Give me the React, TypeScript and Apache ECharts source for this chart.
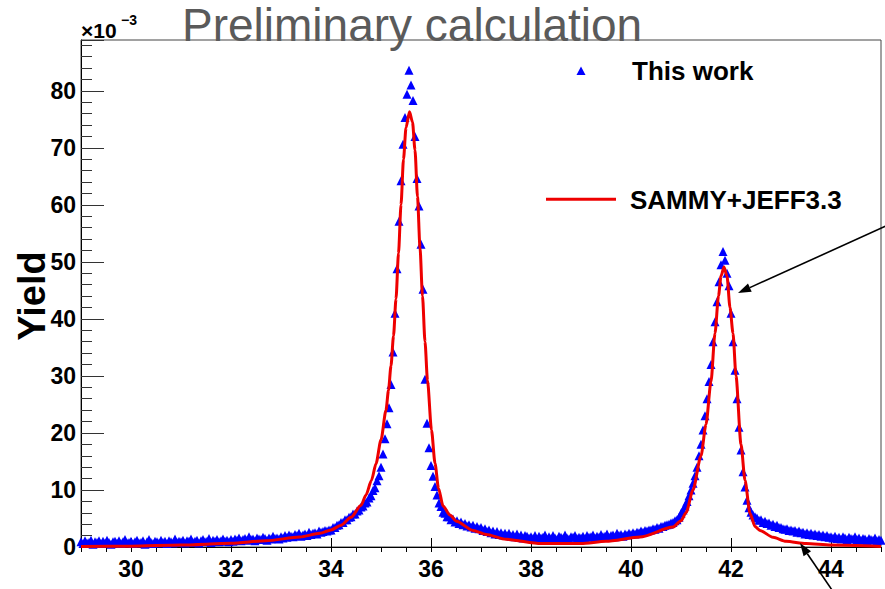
import React, { useEffect, useRef } from "react";
import * as echarts from "echarts";

// Measured yield (x10^-3) on a regular energy grid starting at 29.00 with step 0.04
const blueStart = 29.0;
const blueStep = 0.04;
const blueYield: number[] = [
  0.9,0.6,1.1,0.7,0.8,1.2,0.5,0.9,0.8,1.1,0.6,1.0,0.7,1.2,0.8,0.5,0.9,1.0,0.7,1.1,0.6,0.9,1.3,0.7,0.8,
  1.0,0.6,0.9,1.2,0.7,0.8,1.1,0.5,0.9,1.3,0.8,0.6,1.0,0.9,0.7,1.2,0.8,1.0,0.6,1.1,0.9,0.7,1.4,0.8,1.0,
  0.9,1.2,0.7,1.1,1.0,1.4,0.8,1.0,1.2,0.7,1.1,1.3,0.9,1.0,1.5,0.8,1.2,1.0,1.3,0.9,1.1,1.4,1.0,1.2,0.9,
  1.3,1.0,1.4,1.2,1.6,1.1,1.3,1.5,1.2,1.8,1.3,1.4,1.1,1.6,1.4,1.3,1.7,1.5,1.2,1.6,1.4,1.9,1.5,1.6,1.4,
  1.8,1.6,2.0,1.7,2.1,1.9,1.8,2.2,2.0,2.4,1.9,2.1,2.3,2.0,2.6,2.2,2.4,2.5,2.3,2.8,2.6,2.7,2.9,2.8,3.0,
  3.0,3.4,3.4,3.8,3.9,4.3,4.3,4.8,4.8,5.2,5.3,5.8,5.8,6.3,6.5,7.0,7.2,7.7,7.9,8.6,9.0,9.9,10.4,11.6,12.5,
  14.0,16.3,19.0,21.6,24.4,28.5,34.2,41.0,48.8,57.1,64.2,70.6,75.3,79.4,83.6,81.0,78.3,72.0,64.6,59.8,53.1,45.2,29.4,21.7,17.4,
  14.3,12.4,10.6,9.1,7.7,7.1,6.1,5.9,5.3,5.3,4.8,4.9,4.4,4.6,4.1,4.4,3.9,4.1,3.7,3.9,3.5,3.8,3.3,3.6,3.2,
  3.4,2.9,3.2,2.7,3.0,2.5,2.8,2.3,2.7,2.2,2.5,2.1,2.4,2.0,2.4,1.9,2.2,1.8,2.3,1.7,2.1,1.6,2.0,1.9,1.6,
  1.8,1.5,2.0,1.4,1.9,1.6,1.7,2.1,1.4,1.8,1.5,2.0,1.6,1.3,1.9,1.7,1.5,2.1,1.6,1.4,1.8,1.7,2.0,1.5,1.7,
  1.6,1.9,1.5,2.0,1.7,1.8,2.1,1.6,1.9,1.7,2.2,1.8,1.9,2.3,1.7,2.0,2.1,1.8,2.4,2.0,2.2,1.9,2.3,2.1,2.4,
  2.2,2.5,2.3,2.6,2.5,2.8,2.6,2.9,2.8,3.0,3.0,3.2,3.1,3.4,3.3,3.6,3.6,3.8,3.9,4.0,4.2,4.3,4.6,4.8,5.2,
  5.9,6.5,7.2,8.0,9.0,10.0,11.2,12.5,14.0,16.0,18.0,20.5,23.0,26.0,29.0,32.0,36.0,39.5,43.0,46.5,49.5,51.8,50.3,48.0,45.8,
  41.0,36.0,31.0,26.0,21.0,17.0,13.2,10.5,8.2,6.9,6.1,5.6,5.3,5.1,4.7,4.8,4.3,4.5,4.1,4.2,3.8,4.0,3.6,3.8,3.4,
  3.4,3.2,3.1,3.2,2.9,3.0,2.8,2.9,2.6,2.8,2.5,2.6,2.3,2.5,2.2,2.4,2.1,2.3,2.0,2.2,1.9,2.1,1.8,2.0,1.7,
  1.8,1.6,1.9,1.5,1.7,1.4,1.8,1.6,1.3,1.7,1.5,1.4,1.8,1.3,1.6,1.2,1.5,1.4,1.1,1.5,1.3,1.2,1.6,1.1,1.3,
  1.2,
];

// SAMMY + JEFF3.3 calculation
const calcEnergy: number[] = [
  29.0, 30.0, 31.0, 32.0, 32.7, 33.38, 33.78, 34.0, 34.2, 34.4, 34.6, 34.7, 34.81, 34.9, 35.0,
  35.1, 35.15, 35.2, 35.25, 35.3, 35.35, 35.4, 35.45, 35.5, 35.57, 35.63, 35.68, 35.73, 35.78,
  35.83, 35.88, 35.93, 36.01, 36.08, 36.15, 36.24, 36.38, 36.51, 36.84, 37.1, 37.5, 38.2, 39.0,
  39.5, 40.18, 40.84, 41.0, 41.1, 41.24, 41.4, 41.5, 41.6, 41.68, 41.75, 41.8, 41.86, 41.92,
  41.98, 42.04, 42.1, 42.2, 42.28, 42.38, 42.48, 42.58, 42.84, 43.1, 43.5, 44.0, 45.0,
];
const calcYield: number[] = [
  0.1, 0.15, 0.35, 0.65, 1.1, 1.75, 2.4, 3.0, 3.8, 5.2, 7.3, 9.1, 11.7, 14.6, 18.8,
  24.0, 27.5, 31.8, 37.0, 43.5, 51.5, 60.0, 68.0, 73.5, 76.3, 74.5, 69.6, 61.4, 52.5,
  44.0, 36.0, 29.2, 20.5, 14.7, 10.3, 7.2, 5.6, 4.5, 2.9, 2.2, 1.35, 0.6, 0.6,
  1.0, 1.75, 3.5, 4.6, 6.0, 10.0, 16.0, 21.5, 29.0, 37.5, 44.0, 47.5, 49.1, 47.5,
  42.0, 37.5, 30.0, 18.0, 11.7, 5.9, 3.6, 2.9, 1.7, 1.0, 0.6, 0.35, 0.1,
];

const xLabelValues = [30, 32, 34, 36, 38, 40, 42, 44];
const seriesNames = ["This work", "SAMMY+JEFF3.3"];

const FONT = "Liberation Sans, Arial, Helvetica, sans-serif";

export default function App() {
  const ref = useRef<HTMLDivElement>(null);
  useEffect(() => {
    if (!ref.current) return;
    const chart = echarts.init(ref.current, undefined, { renderer: "svg" });
    const blueData = blueYield.map((y, i) => [
      Math.round((blueStart + blueStep * i) * 100) / 100,
      y,
    ]);
    const redData = calcEnergy.map((x, i) => [x, calcYield[i]]);

    const arrow = (x1: number, y1: number, tx: number, ty: number) => {
      const dx = tx - x1;
      const dy = ty - y1;
      const len = Math.sqrt(dx * dx + dy * dy);
      const ux = dx / len;
      const uy = dy / len;
      const hl = 13;
      const hw = 4.5;
      const bx = tx - hl * ux;
      const by = ty - hl * uy;
      const nx = -uy;
      const ny = ux;
      return [
        {
          type: "line",
          shape: { x1, y1, x2: bx, y2: by },
          style: { stroke: "#000", lineWidth: 1.6 },
          z: 100,
        },
        {
          type: "polygon",
          shape: {
            points: [
              [tx, ty],
              [bx + hw * nx, by + hw * ny],
              [bx - hw * nx, by - hw * ny],
            ],
          },
          style: { fill: "#000" },
          z: 100,
        },
      ];
    };

    const option: any = {
      animation: false,
      backgroundColor: "#ffffff",
      grid: {
        left: 81,
        right: 4,
        top: 40,
        bottom: 42,
        show: true,
        borderColor: "#444",
        borderWidth: 1,
        backgroundColor: "transparent",
      },
      xAxis: [
        {
          type: "value",
          min: 29,
          max: 45,
          position: "bottom",
          axisLine: { show: true, lineStyle: { color: "#000", width: 1 } },
          axisTick: {
            show: true,
            inside: true,
            length: 9,
            customValues: xLabelValues,
            lineStyle: { color: "#000", width: 1 },
          },
          axisLabel: {
            customValues: xLabelValues,
            color: "#000",
            fontSize: 23,
            fontWeight: "bold",
            fontFamily: FONT,
            margin: 10,
          },
          splitLine: { show: false },
        },
        {
          type: "value",
          min: 29,
          max: 45,
          interval: 0.5,
          position: "bottom",
          axisLine: { show: false },
          axisTick: { show: true, inside: false, length: 5, lineStyle: { color: "#000", width: 1 } },
          axisLabel: { show: false },
          splitLine: { show: false },
        },
      ],
      yAxis: {
        type: "value",
        min: 0,
        max: 88.9,
        interval: 10,
        axisLine: { show: true, lineStyle: { color: "#000", width: 1 } },
        axisTick: { show: true, inside: true, length: 23, lineStyle: { color: "#333", width: 1 } },
        minorTick: { show: true, splitNumber: 5, length: 11, lineStyle: { color: "#333", width: 1 } },
        axisLabel: {
          showMaxLabel: false,
          color: "#000",
          fontSize: 23,
          fontWeight: "bold",
          fontFamily: FONT,
          margin: 5,
        },
        splitLine: { show: false },
      },
      series: [
        {
          name: seriesNames[0],
          type: "scatter",
          symbol: "triangle",
          symbolSize: 9,
          itemStyle: { color: "#0000ff", opacity: 1 },
          data: blueData,
          z: 2,
        },
        {
          name: seriesNames[1],
          type: "line",
          data: redData,
          showSymbol: false,
          smooth: 0.25,
          smoothMonotone: "x",
          lineStyle: { color: "#ee0000", width: 3 },
          z: 3,
        },
      ],
      graphic: [
        {
          type: "text",
          x: 182,
          y: 25,
          style: {
            text: "Preliminary calculation",
            fill: "#5a5a5a",
            font: `46px ${FONT}`,
            textAlign: "left",
            textVerticalAlign: "middle",
          },
        },
        {
          type: "text",
          x: 81,
          y: 30,
          style: {
            text: "\u00d710",
            fill: "#000",
            font: `bold 21px ${FONT}`,
            textAlign: "left",
            textVerticalAlign: "middle",
          },
        },
        {
          type: "text",
          x: 121,
          y: 20,
          style: {
            text: "\u22123",
            fill: "#000",
            font: `bold 14px ${FONT}`,
            textAlign: "left",
            textVerticalAlign: "middle",
          },
        },
        {
          type: "text",
          x: 32,
          y: 296,
          rotation: Math.PI / 2,
          style: {
            text: "Yield",
            fill: "#000",
            font: `bold 38px ${FONT}`,
            textAlign: "center",
            textVerticalAlign: "middle",
          },
        },
        {
          type: "polygon",
          shape: { points: [[581, 66.5], [576.5, 75], [585.5, 75]] },
          style: { fill: "#0000ff" },
        },
        {
          type: "text",
          x: 632,
          y: 71,
          style: {
            text: seriesNames[0],
            fill: "#000",
            font: `bold 26px ${FONT}`,
            textAlign: "left",
            textVerticalAlign: "middle",
          },
        },
        {
          type: "line",
          shape: { x1: 546, y1: 199.3, x2: 616, y2: 199.3 },
          style: { stroke: "#ee0000", lineWidth: 3 },
        },
        {
          type: "text",
          x: 630,
          y: 200,
          style: {
            text: seriesNames[1],
            fill: "#000",
            font: `bold 26px ${FONT}`,
            textAlign: "left",
            textVerticalAlign: "middle",
          },
        },
        ...arrow(886, 226, 738, 293),
        ...arrow(832, 590, 800, 543),
      ],
    };
    chart.setOption(option);
    return () => chart.dispose();
  }, []);
  return (
    <div
      ref={ref}
      style={{ position: "fixed", left: 0, top: 0, width: 885, height: 589, background: "#fff" }}
    />
  );
}
